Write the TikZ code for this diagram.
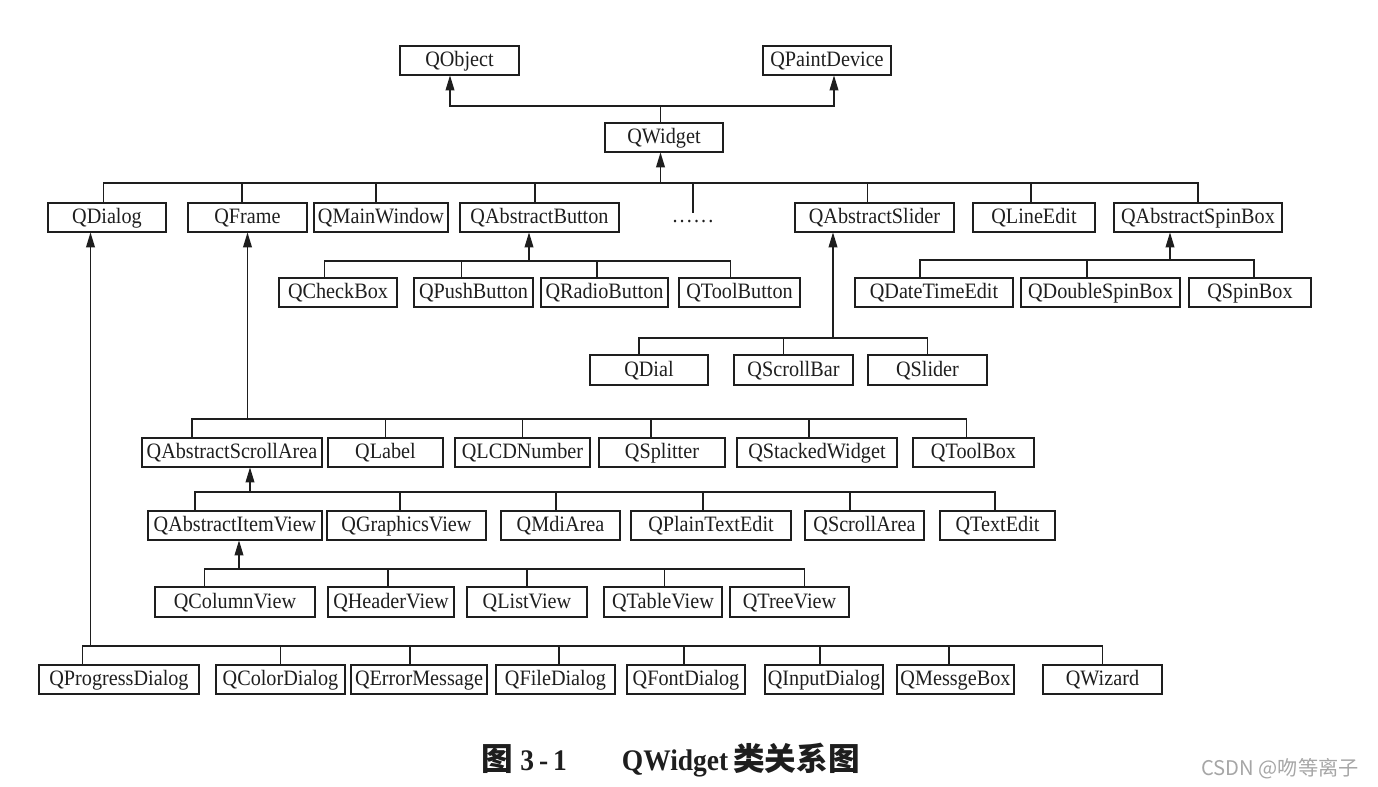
\documentclass[tikz,border=0pt]{standalone}
\usepackage{fontspec}
\setmainfont{Liberation Serif}[FakeStretch=0.92]
\newfontfamily\cjk{Noto Sans CJK SC}
\usepackage{tikz}
\usetikzlibrary{arrows.meta,positioning}
\definecolor{ink}{HTML}{1E1E1E}

\begin{document}
\begin{tikzpicture}[
  cls/.style={draw=ink, line width=1.3pt, outer sep=0pt, minimum height=0.59cm, inner sep=0pt, text height=0.3cm, text depth=0.05cm, font=\fontsize{12.5}{14}\selectfont, text=ink},
  link/.style={draw=ink, line width=1.1pt, line cap=rect},
  inh/.style={link, -{Triangle[length=0.3cm, width=0.17cm]}},
  figcap/.style={font=\bfseries\fontsize{17}{20}\selectfont, text=ink},
  wmark/.style={font=\cjk\fontsize{11.5}{14}\selectfont, text=gray!70}
]
\useasboundingbox (0,0) rectangle (27.56,-15.72);

% top
\node[cls, minimum width=2.38cm] (qobject) at (9.19,-1.21) {QObject};
\node[cls, minimum width=2.56cm, right=4.88cm of qobject] (qpaintdevice) {QPaintDevice};
\node[cls, minimum width=2.36cm] (qwidget) at (13.28,-2.75) {QWidget};

% QWidget subclasses
\node[cls, minimum width=2.36cm] (qdialog) at (2.14,-4.35) {QDialog};
\node[cls, minimum width=2.38cm, right=0.44cm of qdialog] (qframe) {QFrame};
\node[cls, minimum width=2.68cm, right=0.14cm of qframe] (qmainwindow) {QMainWindow};
\node[cls, minimum width=3.18cm, right=0.24cm of qmainwindow] (qabstractbutton) {QAbstractButton};
\node[inner sep=0pt, font=\fontsize{12.5}{14}\selectfont, text=ink] (dots) at (13.86,-4.44) {.\kern1.2pt.\kern1.2pt.\kern1.2pt.\kern1.2pt.\kern1.2pt.};
\node[cls, minimum width=3.18cm, right=3.52cm of qabstractbutton] (qabstractslider) {QAbstractSlider};
\node[cls, minimum width=2.44cm, right=0.38cm of qabstractslider] (qlineedit) {QLineEdit};
\node[cls, minimum width=3.36cm, right=0.38cm of qlineedit] (qabstractspinbox) {QAbstractSpinBox};

% buttons and spin boxes
\node[cls, minimum width=2.36cm] (qcheckbox) at (6.76,-5.85) {QCheckBox};
\node[cls, minimum width=2.38cm, right=0.34cm of qcheckbox] (qpushbutton) {QPushButton};
\node[cls, minimum width=2.54cm, right=0.16cm of qpushbutton] (qradiobutton) {QRadioButton};
\node[cls, minimum width=2.42cm, right=0.22cm of qradiobutton] (qtoolbutton) {QToolButton};
\node[cls, minimum width=3.16cm, right=1.1cm of qtoolbutton] (qdatetimeedit) {QDateTimeEdit};
\node[cls, minimum width=3.18cm, right=0.16cm of qdatetimeedit] (qdoublespinbox) {QDoubleSpinBox};
\node[cls, minimum width=2.44cm, right=0.18cm of qdoublespinbox] (qspinbox) {QSpinBox};

% sliders
\node[cls, minimum width=2.36cm] (qdial) at (12.98,-7.4) {QDial};
\node[cls, minimum width=2.38cm, right=0.52cm of qdial] (qscrollbar) {QScrollBar};
\node[cls, minimum width=2.38cm, right=0.3cm of qscrollbar] (qslider) {QSlider};

% frames
\node[cls, minimum width=3.6cm] (qabstractscrollarea) at (4.64,-9.05) {QAbstractScrollArea};
\node[cls, minimum width=2.3cm, right=0.12cm of qabstractscrollarea] (qlabel) {QLabel};
\node[cls, minimum width=2.7cm, right=0.24cm of qlabel] (qlcdnumber) {QLCDNumber};
\node[cls, minimum width=2.52cm, right=0.18cm of qlcdnumber] (qsplitter) {QSplitter};
\node[cls, minimum width=3.2cm, right=0.24cm of qsplitter] (qstackedwidget) {QStackedWidget};
\node[cls, minimum width=2.42cm, right=0.32cm of qstackedwidget] (qtoolbox) {QToolBox};

% scroll areas
\node[cls, minimum width=3.48cm] (qabstractitemview) at (4.7,-10.51) {QAbstractItemView};
\node[cls, minimum width=3.18cm, right=0.1cm of qabstractitemview] (qgraphicsview) {QGraphicsView};
\node[cls, minimum width=2.38cm, right=0.3cm of qgraphicsview] (qmdiarea) {QMdiArea};
\node[cls, minimum width=3.2cm, right=0.22cm of qmdiarea] (qplaintextedit) {QPlainTextEdit};
\node[cls, minimum width=2.38cm, right=0.28cm of qplaintextedit] (qscrollarea) {QScrollArea};
\node[cls, minimum width=2.3cm, right=0.32cm of qscrollarea] (qtextedit) {QTextEdit};

% item views
\node[cls, minimum width=3.2cm] (qcolumnview) at (4.7,-12.04) {QColumnView};
\node[cls, minimum width=2.52cm, right=0.26cm of qcolumnview] (qheaderview) {QHeaderView};
\node[cls, minimum width=2.4cm, right=0.26cm of qheaderview] (qlistview) {QListView};
\node[cls, minimum width=2.36cm, right=0.34cm of qlistview] (qtableview) {QTableView};
\node[cls, minimum width=2.38cm, right=0.16cm of qtableview] (qtreeview) {QTreeView};

% dialogs
\node[cls, minimum width=3.2cm] (qprogressdialog) at (2.38,-13.59) {QProgressDialog};
\node[cls, minimum width=2.58cm, right=0.34cm of qprogressdialog] (qcolordialog) {QColorDialog};
\node[cls, minimum width=2.72cm, right=0.12cm of qcolordialog] (qerrormessage) {QErrorMessage};
\node[cls, minimum width=2.38cm, right=0.18cm of qerrormessage] (qfiledialog) {QFileDialog};
\node[cls, minimum width=2.36cm, right=0.24cm of qfiledialog] (qfontdialog) {QFontDialog};
\node[cls, minimum width=2.36cm, right=0.4cm of qfontdialog] (qinputdialog) {QInputDialog};
\node[cls, minimum width=2.34cm, right=0.28cm of qinputdialog] (qmessgebox) {QMessgeBox};
\node[cls, minimum width=2.38cm, right=0.58cm of qmessgebox] (qwizard) {QWizard};

% QWidget -> QObject, QPaintDevice
\coordinate (objbus) at (0,-2.12);
\draw[link] ([xshift=-0.19cm]qobject.south |- objbus) -- ([xshift=0.14cm]qpaintdevice.south |- objbus);
\draw[link] ([xshift=-0.07cm]qwidget.north) -- ([xshift=-0.07cm]qwidget.north |- objbus);
\draw[inh] ([xshift=-0.19cm]qobject.south |- objbus) -- ([xshift=-0.19cm]qobject.south);
\draw[inh] ([xshift=0.14cm]qpaintdevice.south |- objbus) -- ([xshift=0.14cm]qpaintdevice.south);

% -> QWidget
\coordinate (wbus) at (0,-3.66);
\draw[link] ([xshift=-0.07cm]qdialog.north |- wbus) -- (qabstractspinbox.north |- wbus);
\foreach \c/\s in {qdialog/-0.07, qframe/-0.11, qmainwindow/-0.1, qabstractbutton/-0.09, qabstractslider/-0.14, qlineedit/-0.06, qabstractspinbox/0}
  \draw[link] ([xshift=\s cm]\c.north) -- ([xshift=\s cm]\c.north |- wbus);
\draw[link] (dots.north |- wbus) -- ([yshift=0.2cm]dots.center);
\draw[inh] ([xshift=-0.07cm]qwidget.south |- wbus) -- ([xshift=-0.07cm]qwidget.south);

% -> QAbstractButton
\coordinate (btnbus) at (0,-5.22);
\draw[link] ([xshift=-0.27cm]qcheckbox.north |- btnbus) -- ([xshift=-0.18cm]qtoolbutton.north |- btnbus);
\foreach \c/\s in {qcheckbox/-0.27, qpushbutton/-0.24, qradiobutton/-0.15, qtoolbutton/-0.18}
  \draw[link] ([xshift=\s cm]\c.north) -- ([xshift=\s cm]\c.north |- btnbus);
\draw[inh] ([xshift=-0.21cm]qabstractbutton.south |- btnbus) -- ([xshift=-0.21cm]qabstractbutton.south);

% -> QAbstractSpinBox
\coordinate (spinbus) at (0,-5.2);
\draw[link] ([xshift=-0.28cm]qdatetimeedit.north |- spinbus) -- ([xshift=0.08cm]qspinbox.north |- spinbus);
\foreach \c/\s in {qdatetimeedit/-0.28, qdoublespinbox/-0.27, qspinbox/0.08}
  \draw[link] ([xshift=\s cm]\c.north) -- ([xshift=\s cm]\c.north |- spinbus);
\draw[inh] ([xshift=-0.56cm]qabstractspinbox.south |- spinbus) -- ([xshift=-0.56cm]qabstractspinbox.south);

% -> QAbstractSlider
\coordinate (sliderbus) at (0,-6.76);
\draw[link] ([xshift=-0.2cm]qdial.north |- sliderbus) -- (qslider.north |- sliderbus);
\foreach \c/\s in {qdial/-0.2, qscrollbar/-0.2, qslider/0}
  \draw[link] ([xshift=\s cm]\c.north) -- ([xshift=\s cm]\c.north |- sliderbus);
\draw[inh] ([xshift=-0.83cm]qabstractslider.south |- sliderbus) -- ([xshift=-0.83cm]qabstractslider.south);

% -> QFrame
\coordinate (framebus) at (0,-8.38);
\draw[link] ([xshift=-0.8cm]qabstractscrollarea.north |- framebus) -- ([xshift=-0.14cm]qtoolbox.north |- framebus);
\foreach \c/\s in {qabstractscrollarea/-0.8, qlabel/0, qlcdnumber/0, qsplitter/-0.22, qstackedwidget/-0.16, qtoolbox/-0.14}
  \draw[link] ([xshift=\s cm]\c.north) -- ([xshift=\s cm]\c.north |- framebus);
\draw[inh] (qframe.south |- framebus) -- (qframe.south);

% -> QAbstractScrollArea
\coordinate (scrollbus) at (0,-9.84);
\draw[link] ([xshift=-0.8cm]qabstractitemview.north |- scrollbus) -- ([xshift=-0.05cm]qtextedit.north |- scrollbus);
\foreach \c/\s in {qabstractitemview/-0.8, qgraphicsview/-0.13, qmdiarea/-0.09, qplaintextedit/-0.16, qscrollarea/-0.29, qtextedit/-0.05}
  \draw[link] ([xshift=\s cm]\c.north) -- ([xshift=\s cm]\c.north |- scrollbus);
\draw[inh] ([xshift=0.36cm]qabstractscrollarea.south |- scrollbus) -- ([xshift=0.36cm]qabstractscrollarea.south);

% -> QAbstractItemView
\coordinate (itembus) at (0,-11.38);
\draw[link] ([xshift=-0.61cm]qcolumnview.north |- itembus) -- ([xshift=0.3cm]qtreeview.north |- itembus);
\foreach \c/\s in {qcolumnview/-0.61, qheaderview/-0.06, qlistview/0, qtableview/0.03, qtreeview/0.3}
  \draw[link] ([xshift=\s cm]\c.north) -- ([xshift=\s cm]\c.north |- itembus);
\draw[inh] ([xshift=0.08cm]qabstractitemview.south |- itembus) -- ([xshift=0.08cm]qabstractitemview.south);

% -> QDialog
\coordinate (dialogbus) at (0,-12.92);
\draw[link] ([xshift=-0.73cm]qprogressdialog.north |- dialogbus) -- (qwizard.north |- dialogbus);
\foreach \c/\s in {qprogressdialog/-0.73, qcolordialog/0, qerrormessage/-0.18, qfiledialog/0.07, qfontdialog/-0.04, qinputdialog/-0.08, qmessgebox/-0.13, qwizard/0}
  \draw[link] ([xshift=\s cm]\c.north) -- ([xshift=\s cm]\c.north |- dialogbus);
\draw[inh] ([xshift=-0.33cm]qdialog.south |- dialogbus) -- ([xshift=-0.33cm]qdialog.south);

% caption
\node[figcap] (cap) at (13.41,-15.2) {{\cjk\fontsize{18}{20}\selectfont 图}\hspace{0.15cm}3\hspace{0.1cm}-\hspace{0.1cm}1\hspace{1.1cm}QWidget\hspace{0.1cm}{\cjk\fontsize{18}{20}\selectfont 类关系图}};
\node[wmark] (csdn) at (25.6,-15.38) {CSDN @吻等离子};
\end{tikzpicture}
\end{document}
